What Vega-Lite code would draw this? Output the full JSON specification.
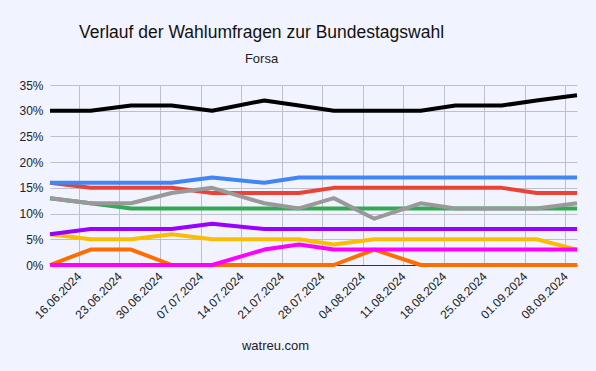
{
  "$schema": "https://vega.github.io/schema/vega-lite/v6.json",
  "width": 527,
  "height": 180,
  "autosize": {"type": "none"},
  "padding": {"left": 50, "top": 85, "right": 19, "bottom": 106},
  "background": "#f1f4ff",
  "title": {
    "text": "Verlauf der Wahlumfragen zur Bundestagswahl",
    "subtitle": "Forsa",
    "anchor": "middle",
    "frame": "group",
    "dx": -52,
    "offset": 13,
    "font": "Liberation Sans",
    "fontSize": 17.5,
    "fontWeight": "normal",
    "color": "#111111",
    "subtitleFont": "Liberation Sans",
    "subtitleFontSize": 13,
    "subtitleColor": "#222222",
    "subtitlePadding": 12
  },
  "config": {
    "view": {"stroke": null},
    "font": "Liberation Sans"
  },
  "data": {
    "values": [
      {"party": "CDU/CSU", "date": "2024-06-11", "value": 30},
      {"party": "CDU/CSU", "date": "2024-06-18", "value": 30},
      {"party": "CDU/CSU", "date": "2024-06-25", "value": 31},
      {"party": "CDU/CSU", "date": "2024-07-02", "value": 31},
      {"party": "CDU/CSU", "date": "2024-07-09", "value": 30},
      {"party": "CDU/CSU", "date": "2024-07-18", "value": 32},
      {"party": "CDU/CSU", "date": "2024-07-24", "value": 31},
      {"party": "CDU/CSU", "date": "2024-07-30", "value": 30},
      {"party": "CDU/CSU", "date": "2024-08-06", "value": 30},
      {"party": "CDU/CSU", "date": "2024-08-14", "value": 30},
      {"party": "CDU/CSU", "date": "2024-08-20", "value": 31},
      {"party": "CDU/CSU", "date": "2024-08-28", "value": 31},
      {"party": "CDU/CSU", "date": "2024-09-03", "value": 32},
      {"party": "CDU/CSU", "date": "2024-09-10", "value": 33},

      {"party": "SPD", "date": "2024-06-11", "value": 16},
      {"party": "SPD", "date": "2024-06-18", "value": 15},
      {"party": "SPD", "date": "2024-06-25", "value": 15},
      {"party": "SPD", "date": "2024-07-02", "value": 15},
      {"party": "SPD", "date": "2024-07-09", "value": 14},
      {"party": "SPD", "date": "2024-07-18", "value": 14},
      {"party": "SPD", "date": "2024-07-24", "value": 14},
      {"party": "SPD", "date": "2024-07-30", "value": 15},
      {"party": "SPD", "date": "2024-08-06", "value": 15},
      {"party": "SPD", "date": "2024-08-14", "value": 15},
      {"party": "SPD", "date": "2024-08-20", "value": 15},
      {"party": "SPD", "date": "2024-08-28", "value": 15},
      {"party": "SPD", "date": "2024-09-03", "value": 14},
      {"party": "SPD", "date": "2024-09-10", "value": 14},

      {"party": "AfD", "date": "2024-06-11", "value": 16},
      {"party": "AfD", "date": "2024-06-18", "value": 16},
      {"party": "AfD", "date": "2024-06-25", "value": 16},
      {"party": "AfD", "date": "2024-07-02", "value": 16},
      {"party": "AfD", "date": "2024-07-09", "value": 17},
      {"party": "AfD", "date": "2024-07-18", "value": 16},
      {"party": "AfD", "date": "2024-07-24", "value": 17},
      {"party": "AfD", "date": "2024-07-30", "value": 17},
      {"party": "AfD", "date": "2024-08-06", "value": 17},
      {"party": "AfD", "date": "2024-08-14", "value": 17},
      {"party": "AfD", "date": "2024-08-20", "value": 17},
      {"party": "AfD", "date": "2024-08-28", "value": 17},
      {"party": "AfD", "date": "2024-09-03", "value": 17},
      {"party": "AfD", "date": "2024-09-10", "value": 17},

      {"party": "Grüne", "date": "2024-06-11", "value": 13},
      {"party": "Grüne", "date": "2024-06-18", "value": 12},
      {"party": "Grüne", "date": "2024-06-25", "value": 11},
      {"party": "Grüne", "date": "2024-07-02", "value": 11},
      {"party": "Grüne", "date": "2024-07-09", "value": 11},
      {"party": "Grüne", "date": "2024-07-18", "value": 11},
      {"party": "Grüne", "date": "2024-07-24", "value": 11},
      {"party": "Grüne", "date": "2024-07-30", "value": 11},
      {"party": "Grüne", "date": "2024-08-06", "value": 11},
      {"party": "Grüne", "date": "2024-08-14", "value": 11},
      {"party": "Grüne", "date": "2024-08-20", "value": 11},
      {"party": "Grüne", "date": "2024-08-28", "value": 11},
      {"party": "Grüne", "date": "2024-09-03", "value": 11},
      {"party": "Grüne", "date": "2024-09-10", "value": 11},

      {"party": "FDP", "date": "2024-06-11", "value": 6},
      {"party": "FDP", "date": "2024-06-18", "value": 5},
      {"party": "FDP", "date": "2024-06-25", "value": 5},
      {"party": "FDP", "date": "2024-07-02", "value": 6},
      {"party": "FDP", "date": "2024-07-09", "value": 5},
      {"party": "FDP", "date": "2024-07-18", "value": 5},
      {"party": "FDP", "date": "2024-07-24", "value": 5},
      {"party": "FDP", "date": "2024-07-30", "value": 4},
      {"party": "FDP", "date": "2024-08-06", "value": 5},
      {"party": "FDP", "date": "2024-08-14", "value": 5},
      {"party": "FDP", "date": "2024-08-20", "value": 5},
      {"party": "FDP", "date": "2024-08-28", "value": 5},
      {"party": "FDP", "date": "2024-09-03", "value": 5},
      {"party": "FDP", "date": "2024-09-10", "value": 3},

      {"party": "BSW", "date": "2024-06-11", "value": 6},
      {"party": "BSW", "date": "2024-06-18", "value": 7},
      {"party": "BSW", "date": "2024-06-25", "value": 7},
      {"party": "BSW", "date": "2024-07-02", "value": 7},
      {"party": "BSW", "date": "2024-07-09", "value": 8},
      {"party": "BSW", "date": "2024-07-18", "value": 7},
      {"party": "BSW", "date": "2024-07-24", "value": 7},
      {"party": "BSW", "date": "2024-07-30", "value": 7},
      {"party": "BSW", "date": "2024-08-06", "value": 7},
      {"party": "BSW", "date": "2024-08-14", "value": 7},
      {"party": "BSW", "date": "2024-08-20", "value": 7},
      {"party": "BSW", "date": "2024-08-28", "value": 7},
      {"party": "BSW", "date": "2024-09-03", "value": 7},
      {"party": "BSW", "date": "2024-09-10", "value": 7},

      {"party": "Freie Wähler", "date": "2024-06-11", "value": 0},
      {"party": "Freie Wähler", "date": "2024-06-18", "value": 3},
      {"party": "Freie Wähler", "date": "2024-06-25", "value": 3},
      {"party": "Freie Wähler", "date": "2024-07-02", "value": 0},
      {"party": "Freie Wähler", "date": "2024-07-09", "value": 0},
      {"party": "Freie Wähler", "date": "2024-07-18", "value": 0},
      {"party": "Freie Wähler", "date": "2024-07-24", "value": 0},
      {"party": "Freie Wähler", "date": "2024-07-30", "value": 0},
      {"party": "Freie Wähler", "date": "2024-08-06", "value": 3},
      {"party": "Freie Wähler", "date": "2024-08-14", "value": 0},
      {"party": "Freie Wähler", "date": "2024-08-20", "value": 0},
      {"party": "Freie Wähler", "date": "2024-08-28", "value": 0},
      {"party": "Freie Wähler", "date": "2024-09-03", "value": 0},
      {"party": "Freie Wähler", "date": "2024-09-10", "value": 0},

      {"party": "Linke", "date": "2024-06-11", "value": 0},
      {"party": "Linke", "date": "2024-06-18", "value": 0},
      {"party": "Linke", "date": "2024-06-25", "value": 0},
      {"party": "Linke", "date": "2024-07-02", "value": 0},
      {"party": "Linke", "date": "2024-07-09", "value": 0},
      {"party": "Linke", "date": "2024-07-18", "value": 3},
      {"party": "Linke", "date": "2024-07-24", "value": 4},
      {"party": "Linke", "date": "2024-07-30", "value": 3},
      {"party": "Linke", "date": "2024-08-06", "value": 3},
      {"party": "Linke", "date": "2024-08-14", "value": 3},
      {"party": "Linke", "date": "2024-08-20", "value": 3},
      {"party": "Linke", "date": "2024-08-28", "value": 3},
      {"party": "Linke", "date": "2024-09-03", "value": 3},
      {"party": "Linke", "date": "2024-09-10", "value": 3},

      {"party": "Sonstige", "date": "2024-06-11", "value": 13},
      {"party": "Sonstige", "date": "2024-06-18", "value": 12},
      {"party": "Sonstige", "date": "2024-06-25", "value": 12},
      {"party": "Sonstige", "date": "2024-07-02", "value": 14},
      {"party": "Sonstige", "date": "2024-07-09", "value": 15},
      {"party": "Sonstige", "date": "2024-07-18", "value": 12},
      {"party": "Sonstige", "date": "2024-07-24", "value": 11},
      {"party": "Sonstige", "date": "2024-07-30", "value": 13},
      {"party": "Sonstige", "date": "2024-08-06", "value": 9},
      {"party": "Sonstige", "date": "2024-08-14", "value": 12},
      {"party": "Sonstige", "date": "2024-08-20", "value": 11},
      {"party": "Sonstige", "date": "2024-08-28", "value": 11},
      {"party": "Sonstige", "date": "2024-09-03", "value": 11},
      {"party": "Sonstige", "date": "2024-09-10", "value": 12}
    ]
  },
  "mark": {"type": "line", "strokeWidth": 4, "strokeJoin": "round"},
  "encoding": {
    "x": {
      "field": "date",
      "type": "temporal",
      "scale": {"type": "utc", "nice": false},
      "axis": {
        "values": [
          {"year": 2024, "month": 6, "date": 16, "utc": true},
          {"year": 2024, "month": 6, "date": 23, "utc": true},
          {"year": 2024, "month": 6, "date": 30, "utc": true},
          {"year": 2024, "month": 7, "date": 7, "utc": true},
          {"year": 2024, "month": 7, "date": 14, "utc": true},
          {"year": 2024, "month": 7, "date": 21, "utc": true},
          {"year": 2024, "month": 7, "date": 28, "utc": true},
          {"year": 2024, "month": 8, "date": 4, "utc": true},
          {"year": 2024, "month": 8, "date": 11, "utc": true},
          {"year": 2024, "month": 8, "date": 18, "utc": true},
          {"year": 2024, "month": 8, "date": 25, "utc": true},
          {"year": 2024, "month": 9, "date": 1, "utc": true},
          {"year": 2024, "month": 9, "date": 8, "utc": true}
        ],
        "labelExpr": "utcFormat(datum.value, '%d.%m.%Y')",
        "labelAngle": -45,
        "labelAlign": "right",
        "labelBaseline": "middle",
        "labelPadding": 9,
        "labelFontSize": 12,
        "labelFont": "Liberation Sans",
        "labelColor": "#222222",
        "labelOverlap": false,
        "labelFlush": false,
        "ticks": false,
        "grid": true,
        "gridColor": "#bfc0cc",
        "gridWidth": 1,
        "domain": true,
        "domainColor": "#333333",
        "domainWidth": 1,
        "title": "watreu.com",
        "titleFont": "Liberation Sans",
        "titleFontSize": 13,
        "titleFontWeight": "normal",
        "titleColor": "#222222",
        "titleX": 225,
        "titleY": 84,
        "titleBaseline": "alphabetic",
        "titleAnchor": "middle"
      }
    },
    "y": {
      "field": "value",
      "type": "quantitative",
      "scale": {"domain": [0, 35], "nice": false, "zero": true},
      "axis": {
        "values": [0, 5, 10, 15, 20, 25, 30, 35],
        "labelExpr": "datum.value + '%'",
        "labelFontSize": 12,
        "labelFont": "Liberation Sans",
        "labelColor": "#222222",
        "labelPadding": 7,
        "ticks": false,
        "domain": false,
        "grid": true,
        "gridColor": "#bfc0cc",
        "gridWidth": 1,
        "title": null
      }
    },
    "color": {
      "field": "party",
      "type": "nominal",
      "sort": ["CDU/CSU", "SPD", "AfD", "Grüne", "FDP", "BSW", "Freie Wähler", "Linke", "Sonstige"],
      "scale": {
        "domain": ["CDU/CSU", "SPD", "AfD", "Grüne", "FDP", "BSW", "Freie Wähler", "Linke", "Sonstige"],
        "range": ["#000000", "#ea4335", "#4285f4", "#34a853", "#fbbc04", "#9900ff", "#ff6d01", "#ff00ff", "#999999"]
      },
      "legend": null
    }
  }
}
